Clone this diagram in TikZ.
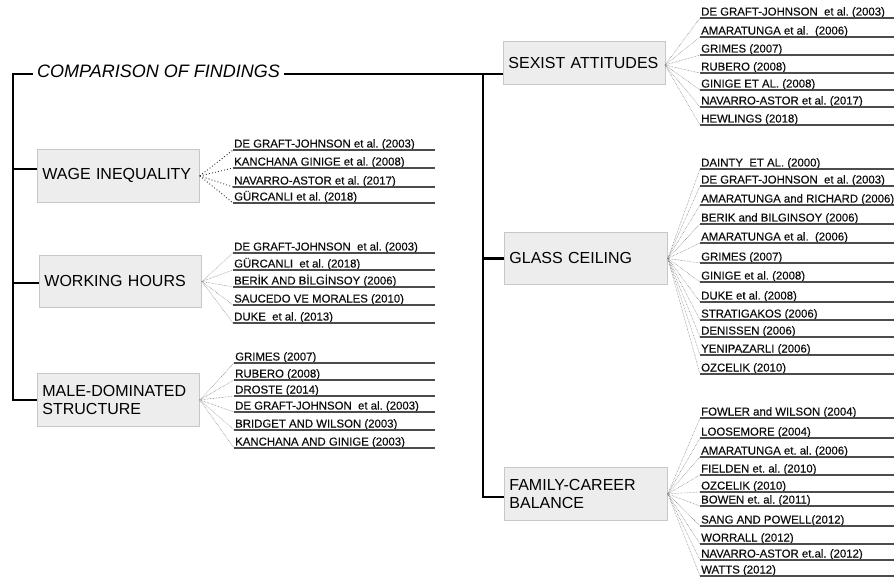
\documentclass[tikz,border=0pt]{standalone}
\usepackage{fontspec}
\setmainfont{Liberation Sans}
\newfontfamily\reffont{Liberation Sans}[FakeBold=0.35]
\frenchspacing
\begin{document}
\begin{tikzpicture}[x=1pt,y=-1pt,
  branch/.style={line width=2.4pt, black, line join=miter},
  catbox/.style={draw=black!22, fill=black!7, line width=0.8pt, anchor=north west,
    inner xsep=5pt, inner ysep=0pt, text width=152pt, align=left,
    font=\fontsize{16}{18.5}\selectfont, text=black},
  reftext/.style={anchor=base west, inner sep=0pt, font=\reffont\fontsize{11.4}{13}\selectfont, text=black!95},
  uline/.style={line width=1.1pt, black!70},
  fan/.style={line width=0.45pt, black!55, dash pattern=on 0.6pt off 0.9pt},
  fanw/.style={line width=0.9pt, black!85, dash pattern=on 0.9pt off 2.2pt},
]
\path[use as bounding box] (0,0) rectangle (894,577);
\clip (0,0) rectangle (894,577);

% category boxes
\node[catbox, minimum height=53pt] (wage) at (37,149) {WAGE INEQUALITY};
\node[catbox, minimum height=52pt] (work) at (39,255) {WORKING HOURS};
\node[catbox, minimum height=53pt] (male) at (37,373) {MALE-DOMINATED\\STRUCTURE};
\node[catbox, minimum height=43pt] (sexist) at (503,41) {SEXIST ATTITUDES};
\node[catbox, minimum height=52pt, text width=153pt] (glass) at (504,232) {GLASS CEILING};
\node[catbox, minimum height=53pt, text width=153pt] (family) at (504,467) {FAMILY-CAREER\\BALANCE};

% title
\node[anchor=base west, inner xsep=4pt, inner ysep=0pt,
  font=\fontsize{18}{20}\selectfont\itshape] (title) at (33,78) {COMPARISON OF FINDINGS};

% tree branches
\coordinate (ltop) at (13,74);
\coordinate (rtop) at (483,74);
\coordinate (bw) at (13,169);
\coordinate (bh) at (13,283);
\coordinate (bf) at (483,497);
\coordinate (sf) at (665,65);
\draw[branch] (title.west |- ltop) -- (ltop) -- (ltop |- male.west) -- (male.west);
\draw[branch] (title.east |- ltop) -- (sexist.west |- ltop);
\draw[branch] (bw) -- (bw -| wage.west);
\draw[branch] (bh) -- (bh -| work.west);
\draw[branch] (rtop) -- (bf) -- (bf -| family.west);
\draw[branch] (rtop |- glass.west) -- (glass.west);

% ends of underlines
\coordinate (lend) at (435,0);
\coordinate (rend) at (900,0);

% WAGE INEQUALITY
\foreach \yl/\txt [count=\i] in {
  150/{DE GRAFT-JOHNSON et al. (2003)},
  168/{KANCHANA GINIGE et al. (2008)},
  187/{NAVARRO-ASTOR et al. (2017)},
  203/{GÜRCANLI et al. (2018)}}{
  \coordinate (wu\i) at (233,\yl);
  \node[reftext] (wr\i) at (234,{\yl-2.5}) {\txt};
  \draw[uline] (wu\i) -- (wu\i -| lend);
  \draw[fanw] (wage.east) -- (wu\i);
}

% WORKING HOURS
\foreach \yl/\txt [count=\i] in {
  253/{DE GRAFT-JOHNSON~ et al. (2003)},
  270/{GÜRCANLI~ et al. (2018)},
  287/{BERİK AND BİLGİNSOY (2006)},
  305/{SAUCEDO VE MORALES (2010)},
  323/{DUKE~ et al. (2013)}}{
  \coordinate (hu\i) at (233,\yl);
  \node[reftext] (hr\i) at (234,{\yl-2.5}) {\txt};
  \draw[uline] (hu\i) -- (hu\i -| lend);
  \draw[fan] (work.east) -- (hu\i);
}

% MALE-DOMINATED STRUCTURE
\foreach \yl/\txt [count=\i] in {
  363/{GRIMES (2007)},
  380/{RUBERO (2008)},
  396/{DROSTE (2014)},
  412/{DE GRAFT-JOHNSON~ et al. (2003)},
  430/{BRIDGET AND WILSON (2003)},
  448/{KANCHANA AND GINIGE (2003)}}{
  \coordinate (mu\i) at (234,\yl);
  \node[reftext] (mr\i) at (235,{\yl-2.5}) {\txt};
  \draw[uline] (mu\i) -- (mu\i -| lend);
  \draw[fan] (male.east) -- (mu\i);
}

% SEXIST ATTITUDES
\foreach \yl/\txt [count=\i] in {
  18/{DE GRAFT-JOHNSON~ et al. (2003)},
  37/{AMARATUNGA et al.~ (2006)},
  55/{GRIMES (2007)},
  73/{RUBERO (2008)},
  90/{GINIGE ET AL. (2008)},
  107/{NAVARRO-ASTOR et al. (2017)},
  125/{HEWLINGS (2018)}}{
  \coordinate (su\i) at (700,\yl);
  \node[reftext] (sr\i) at (701,{\yl-2.5}) {\txt};
  \draw[uline] (su\i) -- (su\i -| rend);
  \draw[fan] (sf) -- (su\i);
}

% GLASS CEILING
\foreach \yl/\txt [count=\i] in {
  169/{DAINTY~ ET AL. (2000)},
  186/{DE GRAFT-JOHNSON~ et al. (2003)},
  205/{AMARATUNGA and RICHARD (2006)},
  224/{BERIK and BILGINSOY (2006)},
  243/{AMARATUNGA et al.~ (2006)},
  263/{GRIMES (2007)},
  282/{GINIGE et al. (2008)},
  302/{DUKE et al. (2008)},
  320/{STRATIGAKOS (2006)},
  337/{DENISSEN (2006)},
  355/{YENIPAZARLI (2006)},
  374/{OZCELIK (2010)}}{
  \coordinate (gu\i) at (700,\yl);
  \node[reftext] (gr\i) at (701,{\yl-2.5}) {\txt};
  \draw[uline] (gu\i) -- (gu\i -| rend);
  \draw[fan] (glass.east) -- (gu\i);
}

% FAMILY-CAREER BALANCE
\foreach \yl/\txt [count=\i] in {
  418/{FOWLER and WILSON (2004)},
  438/{LOOSEMORE (2004)},
  457/{AMARATUNGA et. al. (2006)},
  475/{FIELDEN et. al. (2010)},
  492/{OZCELIK (2010)},
  506/{BOWEN et. al. (2011)},
  526/{SANG AND POWELL(2012)},
  544/{WORRALL (2012)},
  560/{NAVARRO-ASTOR et.al. (2012)},
  576/{WATTS (2012)}}{
  \coordinate (fu\i) at (700,\yl);
  \node[reftext] (fr\i) at (701,{\yl-2.5}) {\txt};
  \draw[uline] (fu\i) -- (fu\i -| rend);
  \draw[fan] (family.east) -- (fu\i);
}
\end{tikzpicture}
\end{document}
